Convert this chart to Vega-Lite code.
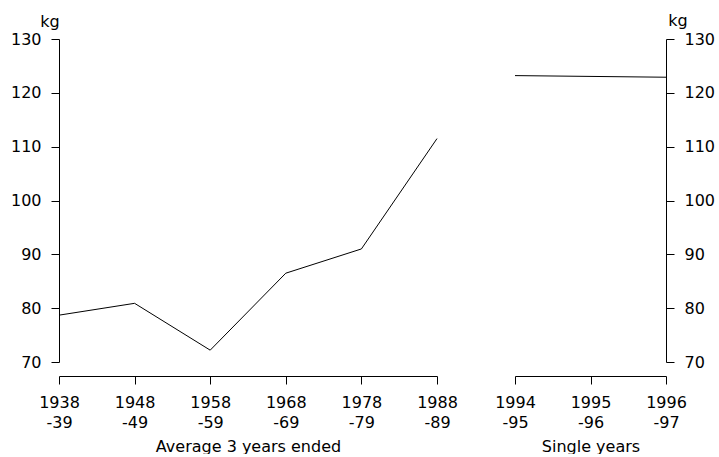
{
  "$schema": "https://vega.github.io/schema/vega-lite/v6.json",
  "padding": {"left": 10, "top": 12, "right": 0, "bottom": 0},
  "background": "white",
  "config": {
    "font": "DejaVu Sans",
    "view": {"stroke": null},
    "axis": {
      "grid": false,
      "domainColor": "black",
      "tickColor": "black",
      "labelColor": "black",
      "titleColor": "black",
      "labelFontSize": 16,
      "titleFontSize": 16,
      "labelFont": "DejaVu Sans",
      "titleFont": "DejaVu Sans",
      "titleFontWeight": "normal",
      "tickSize": 8,
      "labelPadding": 10
    }
  },
  "datasets": {
    "avg": [
      {"year": 1938, "kg": 78.7},
      {"year": 1948, "kg": 80.9},
      {"year": 1958, "kg": 72.2},
      {"year": 1968, "kg": 86.5},
      {"year": 1978, "kg": 91.0},
      {"year": 1988, "kg": 111.5}
    ],
    "single": [
      {"year": 1994, "kg": 123.2},
      {"year": 1996, "kg": 122.9}
    ]
  },
  "hconcat": [
    {
      "width": 378,
      "height": 323,
      "data": {"name": "avg"},
      "mark": {"type": "line", "color": "black", "strokeWidth": 1},
      "encoding": {
        "x": {
          "field": "year", "type": "quantitative",
          "scale": {"domain": [1938, 1988], "nice": false, "zero": false},
          "axis": {
            "values": [1938, 1948, 1958, 1968, 1978, 1988],
            "labelExpr": "[toString(datum.value), '-' + substring(toString(datum.value + 1), 2)]",
            "labelLineHeight": 20,
            "labelPadding": 10,
            "offset": 14,
            "title": "Average 3 years ended",
            "titleFontWeight": "normal",
            "titlePadding": 8,
            "labelFlush": false,
            "labelOverlap": false
          }
        },
        "y": {
          "field": "kg", "type": "quantitative",
          "scale": {"domain": [70, 130], "nice": false, "zero": false},
          "axis": {
            "values": [70, 80, 90, 100, 110, 120, 130],
            "title": "kg",
            "titleFontWeight": "normal",
            "titleAngle": 0,
            "titleAlign": "center",
            "titleBaseline": "alphabetic",
            "titleX": -9.5,
            "titleY": -13,
            "labelFlush": false
          }
        }
      }
    },
    {
      "width": 151,
      "height": 323,
      "data": {"name": "single"},
      "mark": {"type": "line", "color": "black", "strokeWidth": 1},
      "encoding": {
        "x": {
          "field": "year", "type": "quantitative",
          "scale": {"domain": [1994, 1996], "nice": false, "zero": false},
          "axis": {
            "values": [1994, 1995, 1996],
            "labelExpr": "[toString(datum.value), '-' + substring(toString(datum.value + 1), 2)]",
            "labelLineHeight": 20,
            "labelPadding": 10,
            "offset": 14,
            "title": "Single years",
            "titleFontWeight": "normal",
            "titlePadding": 8,
            "labelFlush": false,
            "labelOverlap": false
          }
        },
        "y": {
          "field": "kg", "type": "quantitative",
          "scale": {"domain": [70, 130], "nice": false, "zero": false},
          "axis": {
            "orient": "right",
            "values": [70, 80, 90, 100, 110, 120, 130],
            "title": "kg",
            "titleFontWeight": "normal",
            "titleAngle": 0,
            "titleAlign": "center",
            "titleBaseline": "alphabetic",
            "titleX": 11.5,
            "titleY": -14,
            "labelFlush": false
          }
        }
      }
    }
  ],
  "spacing": 78,
  "bounds": "flush"
}
